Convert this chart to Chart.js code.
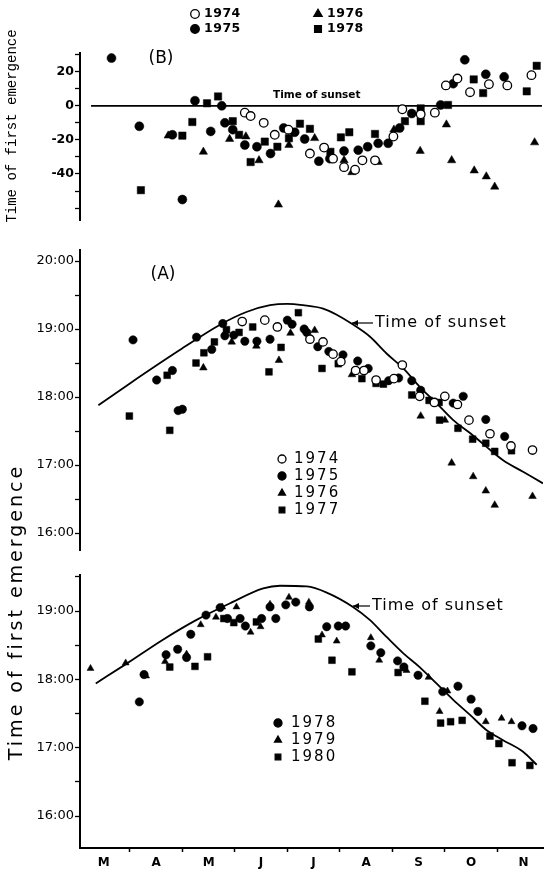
<!DOCTYPE html>
<html>
<head>
<meta charset="utf-8">
<script src="https://cdn.jsdelivr.net/npm/chart.js@4.4.1/dist/chart.umd.min.js"></script>
<style>
  body { margin: 0; background: #fff; }
  #wrap { position: relative; width: 552px; height: 872px; }
  canvas { position: absolute; left: 0; top: 0; }
</style>
</head>
<body>
<div id="wrap">
  <canvas id="chartB" width="552" height="872"></canvas>
  <canvas id="chartA" width="552" height="872"></canvas>
  <canvas id="chartC" width="552" height="872"></canvas>
</div>
<script>
// x values are months after 1 March (1.5 = mid April)
const monthLabels = ['M', 'A', 'M', 'J', 'J', 'A', 'S', 'O', 'N'];
const hourTicksA = [16, 16.5, 17, 17.5, 18, 18.5, 19, 19.5, 20];
const hourTicksC = [16, 16.5, 17, 17.5, 18, 18.5, 19, 19.5];
const diffTicks = [-60, -50, -40, -30, -20, -10, 0, 10, 20, 30];
const diffLabels = [20, 0, -20, -40];

// (B) minutes relative to sunset
const b1974 = [[3.19,-4],[3.30,-6],[3.55,-10],[3.76,-17],[4.02,-14],[4.43,-28],[4.70,-24.5],[4.87,-31],[5.08,-36],[5.29,-37.5],[5.43,-32],[5.67,-32],[6.02,-18],[6.19,-2],[6.54,-5],[6.81,-4],[7.02,12],[7.24,16],[7.48,8],[7.84,12.7],[8.19,12],[8.65,18]];
const b1975 = [[0.65,28],[1.18,-12],[1.81,-17],[2.00,-55],[2.24,3],[2.54,-15],[2.75,0],[2.81,-10],[2.96,-14],[3.19,-23],[3.42,-24],[3.68,-28],[3.93,-13],[4.14,-15.5],[4.33,-19.5],[4.60,-32.5],[4.81,-31],[5.08,-26.5],[5.35,-26],[5.53,-24],[5.73,-22],[5.92,-22],[6.14,-13],[6.37,-4.5],[6.92,0.5],[7.16,13],[7.38,27],[7.78,18.5],[8.13,17]];
const b1976 = [[1.73,-17.5],[2.40,-27],[2.90,-19.5],[3.21,-18],[3.46,-32],[3.83,-58],[4.03,-23],[4.52,-19],[5.08,-32],[5.23,-39],[5.73,-33],[6.03,-14],[6.53,-26.5],[7.03,-11],[7.13,-32],[7.56,-38],[7.79,-41.5],[7.95,-47.5],[8.71,-21.5]];
const b1978 = [[1.21,-49.5],[2.00,-17.5],[2.19,-9.5],[2.47,1.5],[2.68,5.5],[2.96,-9],[3.08,-17],[3.30,-33],[3.57,-21],[3.81,-24],[4.03,-19],[4.24,-10.5],[4.43,-13.5],[4.82,-27],[5.02,-18.5],[5.18,-15.5],[5.67,-16.5],[6.24,-9],[6.54,-1.5],[6.54,-9],[7.06,0.5],[7.55,15.5],[7.73,7.5],[8.56,8.5],[8.75,23.5]];
const bSunset = [[0.26,0],[8.85,0]];

// (A) clock time of first emergence, hours
const a1974 = [[3.14,19.11],[3.57,19.13],[3.81,19.03],[4.43,18.85],[4.68,18.81],[4.87,18.63],[5.02,18.52],[5.30,18.39],[5.46,18.39],[5.69,18.25],[6.03,18.27],[6.19,18.47],[6.52,18.01],[6.80,17.92],[7.00,18.01],[7.24,17.89],[7.46,17.66],[7.86,17.46],[8.26,17.28],[8.67,17.22]];
const a1975 = [[1.06,18.84],[1.51,18.25],[1.81,18.39],[1.92,17.80],[2.00,17.82],[2.27,18.88],[2.56,18.70],[2.77,19.08],[2.81,18.90],[2.98,18.91],[3.19,18.82],[3.42,18.82],[3.67,18.85],[4.00,19.13],[4.09,19.07],[4.32,19.00],[4.37,18.95],[4.58,18.74],[4.79,18.67],[5.06,18.62],[5.34,18.53],[5.54,18.42],[5.93,18.24],[6.12,18.28],[6.37,18.24],[6.54,18.10],[7.16,17.91],[7.35,18.01],[7.78,17.67],[8.14,17.42]];
const a1976 = [[2.40,18.43],[2.94,18.81],[3.41,18.75],[3.84,18.54],[4.06,18.94],[4.52,18.98],[5.23,18.33],[6.54,17.72],[7.00,17.66],[7.13,17.03],[7.54,16.83],[7.78,16.62],[7.95,16.41],[8.67,16.54]];
const a1977 = [[0.99,17.72],[1.71,18.32],[1.76,17.51],[2.26,18.50],[2.41,18.65],[2.61,18.81],[2.84,18.99],[3.08,18.95],[3.34,19.03],[3.65,18.37],[3.88,18.73],[4.21,19.24],[4.66,18.42],[4.97,18.49],[5.42,18.27],[5.69,18.20],[5.83,18.19],[6.37,18.03],[6.70,17.95],[6.89,17.92],[6.90,17.66],[7.25,17.54],[7.53,17.38],[7.78,17.32],[7.95,17.20],[8.27,17.21]];
const aSunset = [[0.40,17.88],[1.00,18.20],[1.95,18.69],[2.71,19.06],[3.22,19.25],[3.67,19.35],[4.00,19.37],[4.30,19.35],[4.68,19.30],[4.94,19.21],[5.22,19.08],[5.57,18.89],[5.89,18.64],[6.21,18.42],[6.52,18.15],[6.84,17.91],[7.16,17.66],[7.48,17.47],[7.79,17.27],[8.11,17.07],[8.49,16.90],[8.87,16.73]];

// lower panel
const c1978 = [[1.18,17.67],[1.27,18.07],[1.69,18.36],[1.91,18.44],[2.08,18.32],[2.16,18.66],[2.45,18.94],[2.72,19.05],[2.86,18.89],[3.10,18.89],[3.20,18.78],[3.51,18.89],[3.67,19.06],[3.78,18.89],[3.97,19.09],[4.16,19.13],[4.42,19.06],[4.75,18.77],[4.97,18.78],[5.11,18.78],[5.59,18.49],[5.78,18.39],[6.10,18.27],[6.22,18.18],[6.49,18.06],[6.96,17.82],[7.25,17.90],[7.50,17.71],[7.63,17.53],[8.47,17.32],[8.68,17.28]];
const c1979 = [[0.25,18.16],[0.92,18.24],[1.31,18.05],[1.67,18.26],[2.08,18.37],[2.35,18.80],[2.64,18.91],[2.76,19.06],[3.03,19.06],[3.30,18.69],[3.49,18.77],[3.67,19.10],[4.03,19.20],[4.41,19.13],[4.66,18.65],[4.94,18.56],[5.59,18.61],[5.75,18.28],[6.27,18.13],[6.69,18.03],[6.90,17.53],[7.05,17.83],[7.78,17.38],[8.08,17.43],[8.27,17.38]];
const c1980 = [[1.76,18.18],[2.24,18.19],[2.48,18.33],[2.79,18.89],[2.98,18.83],[3.41,18.84],[4.59,18.59],[4.85,18.28],[5.23,18.11],[6.11,18.10],[6.62,17.68],[6.92,17.36],[7.11,17.38],[7.33,17.40],[7.86,17.17],[8.03,17.06],[8.28,16.78],[8.62,16.74]];
const cSunset = [[0.35,17.94],[0.94,18.23],[1.63,18.58],[2.27,18.87],[2.90,19.11],[3.54,19.33],[3.86,19.37],[4.37,19.36],[4.75,19.27],[5.25,19.06],[5.57,18.87],[5.89,18.62],[6.21,18.38],[6.52,18.18],[6.84,17.94],[7.16,17.70],[7.48,17.48],[7.79,17.26],[8.11,17.11],[8.49,16.94],[8.75,16.75]];

const X_MIN = 0.05, X_MAX = 8.87;
const FONT = 'DejaVu Sans';

function pts(arr) { return arr.map(p => ({ x: p[0], y: p[1] })); }

function marks(label, arr, kind, r) {
  const open = kind === 'open';
  return {
    type: 'scatter', label, data: pts(arr), order: 0,
    pointStyle: kind === 'tri' ? 'triangle' : kind === 'sq' ? 'rect' : 'circle',
    pointRadius: r, pointHoverRadius: r,
    backgroundColor: open ? '#fff' : '#000',
    borderColor: '#000', borderWidth: open ? 1.3 : 0.5
  };
}

function sunsetLine(arr) {
  return {
    type: 'line', label: 'sunset', data: pts(arr), order: 10,
    borderColor: '#000', borderWidth: 1.8, pointRadius: 0,
    cubicInterpolationMode: 'monotone', fill: false
  };
}

function yScale(min, max, tickVals, labelFn, font) {
  return {
    type: 'linear', min, max,
    afterBuildTicks: s => { s.ticks = tickVals.map(v => ({ value: v })); },
    afterFit: s => { s.width = 80; },
    border: { display: true, color: '#000', width: 2 },
    grid: { drawOnChartArea: false, color: '#000', tickLength: 5, tickWidth: 1.3 },
    ticks: { autoSkip: false, padding: 1, color: '#000', font, callback: labelFn }
  };
}

const hiddenX = { type: 'linear', min: X_MIN, max: X_MAX, display: false };

function drawMarker(ctx, kind, x, y, r) {
  ctx.beginPath();
  if (kind === 'tri') {
    ctx.moveTo(x, y - r);
    ctx.lineTo(x + r * 0.866, y + r * 0.5);
    ctx.lineTo(x - r * 0.866, y + r * 0.5);
    ctx.closePath();
  } else if (kind === 'sq') {
    const s = r * Math.SQRT1_2;
    ctx.rect(x - s, y - s, 2 * s, 2 * s);
  } else {
    ctx.arc(x, y, r, 0, Math.PI * 2);
  }
  ctx.fillStyle = kind === 'open' ? '#fff' : '#000';
  ctx.fill();
  ctx.lineWidth = 1.3;
  ctx.strokeStyle = '#000';
  ctx.stroke();
}

// text, legends and arrows drawn over each panel
const notesPlugin = {
  id: 'notes',
  afterDraw(chart, args, opts) {
    const ctx = chart.ctx;
    (opts.items || []).forEach(it => {
      ctx.save();
      ctx.fillStyle = '#000';
      ctx.strokeStyle = '#000';
      if (it.marker) {
        drawMarker(ctx, it.marker, it.x, it.y, it.r);
      } else if (it.arrow) {
        const [x1, x2, y] = it.arrow;
        ctx.lineWidth = 1.2;
        ctx.beginPath();
        ctx.moveTo(x1, y); ctx.lineTo(x2, y); ctx.stroke();
        ctx.beginPath();
        ctx.moveTo(x1, y); ctx.lineTo(x1 + 6, y - 3); ctx.lineTo(x1 + 6, y + 3);
        ctx.closePath(); ctx.fill();
      } else {
        ctx.font = it.font;
        ctx.letterSpacing = (it.spacing || 0) + 'px';
        ctx.textAlign = it.align || 'left';
        ctx.textBaseline = 'middle';
        ctx.translate(it.x, it.y);
        if (it.rotate) ctx.rotate(it.rotate);
        ctx.fillText(it.text, 0, 0);
      }
      ctx.restore();
    });
  }
};
Chart.register(notesPlugin);

function legendItems(list, mx, tx, font, spacing, r) {
  const out = [];
  list.forEach(([kind, year, y]) => {
    out.push({ marker: kind, x: mx, y, r });
    out.push({ text: year, x: tx, y, font, spacing });
  });
  return out;
}

const base = {
  responsive: false, animation: false, devicePixelRatio: 1,
  events: []
};

// panel B
new Chart(document.getElementById('chartB'), {
  type: 'scatter',
  data: {
    datasets: [
      sunsetLine(bSunset),
      marks('1974', b1974, 'open', 4.3),
      marks('1975', b1975, 'dot', 4.5),
      marks('1976', b1976, 'tri', 4.8),
      marks('1978', b1978, 'sq', 5.2)
    ]
  },
  options: Object.assign({}, base, {
    layout: { padding: { top: 53, bottom: 652, right: 9, left: 0 } },
    scales: {
      x: hiddenX,
      y: yScale(-67, 31, diffTicks,
        v => diffLabels.includes(v) ? String(v) : '',
        { family: FONT, size: 12.5, weight: 'bold' })
    },
    plugins: {
      legend: { display: false }, tooltip: { enabled: false },
      notes: {
        items: [
          { text: '(B)', x: 161, y: 59, font: '17px ' + FONT, align: 'center' },
          { text: 'Time of sunset', x: 273, y: 95, font: 'bold 10.5px ' + FONT },
          { text: 'Time of first emergence', x: 12, y: 126, font: '14px "Liberation Mono"', align: 'center', rotate: -Math.PI / 2 }
        ].concat(
          legendItems([['open', '1974', 14], ['dot', '1975', 29]], 195, 204, 'bold 12.5px ' + FONT, 0.5, 4.3),
          legendItems([['tri', '1976', 14], ['sq', '1978', 29]], 318, 327, 'bold 12.5px ' + FONT, 0.5, 4.8)
        )
      }
    }
  })
});

// panel A
new Chart(document.getElementById('chartA'), {
  type: 'scatter',
  data: {
    datasets: [
      sunsetLine(aSunset),
      marks('1974', a1974, 'open', 4.2),
      marks('1975', a1975, 'dot', 4.2),
      marks('1976', a1976, 'tri', 4.4),
      marks('1977', a1977, 'sq', 4.8)
    ]
  },
  options: Object.assign({}, base, {
    layout: { padding: { top: 250, bottom: 322, right: 9, left: 0 } },
    scales: {
      x: hiddenX,
      y: yScale(15.75, 20.162, hourTicksA,
        v => Number.isInteger(v) ? v + ':00' : '',
        { family: FONT, size: 13 })
    },
    plugins: {
      legend: { display: false }, tooltip: { enabled: false },
      notes: {
        items: [
          { text: '(A)', x: 163, y: 275, font: '17px ' + FONT, align: 'center' },
          { arrow: [352, 373, 323] },
          { text: 'Time of sunset', x: 375, y: 323, font: '16px ' + FONT, spacing: 1 },
          { text: 'Time of first emergence', x: 17, y: 612, font: '19px ' + FONT, spacing: 3, align: 'center', rotate: -Math.PI / 2 }
        ].concat(
          legendItems([['open', '1974', 459], ['dot', '1975', 476], ['tri', '1976', 493], ['sq', '1977', 510]],
            282, 294, '15px ' + FONT, 2, 4)
        )
      }
    }
  })
});

// lower panel with the month axis
const monthTickVals = [];
monthLabels.forEach((m, i) => {
  monthTickVals.push(i + 0.5);
  if (i < monthLabels.length - 1) monthTickVals.push(i + 1);
});

new Chart(document.getElementById('chartC'), {
  type: 'scatter',
  data: {
    datasets: [
      sunsetLine(cSunset),
      marks('1978', c1978, 'dot', 4.2),
      marks('1979', c1979, 'tri', 4),
      marks('1980', c1980, 'sq', 4.8)
    ]
  },
  options: Object.assign({}, base, {
    layout: { padding: { top: 575, bottom: 0, right: 9, left: 0 } },
    scales: {
      x: {
        type: 'linear', min: X_MIN, max: X_MAX,
        afterBuildTicks: s => { s.ticks = monthTickVals.map(v => ({ value: v })); },
        afterFit: s => { s.height = 24; },
        border: { display: true, color: '#000', width: 2 },
        grid: {
          drawOnChartArea: false, tickLength: 4, tickWidth: 1.5,
          tickColor: c => (c.tick && Number.isInteger(c.tick.value)) ? '#000' : 'rgba(0,0,0,0)'
        },
        ticks: {
          autoSkip: false, maxRotation: 0, padding: 4, color: '#000',
          font: { family: FONT, size: 12, weight: 'bold' },
          callback: v => Number.isInteger(v) ? '' : monthLabels[Math.floor(v)]
        }
      },
      y: yScale(15.532, 19.527, hourTicksC,
        v => Number.isInteger(v) ? v + ':00' : '',
        { family: FONT, size: 13 })
    },
    plugins: {
      legend: { display: false }, tooltip: { enabled: false },
      notes: {
        items: [
          { arrow: [353, 370, 606] },
          { text: 'Time of sunset', x: 372, y: 606, font: '16px ' + FONT, spacing: 1 }
        ].concat(
          legendItems([['dot', '1978', 723], ['tri', '1979', 740], ['sq', '1980', 757]],
            278, 291, '15px ' + FONT, 2, 4)
        )
      }
    }
  })
});
</script>
</body>
</html>
